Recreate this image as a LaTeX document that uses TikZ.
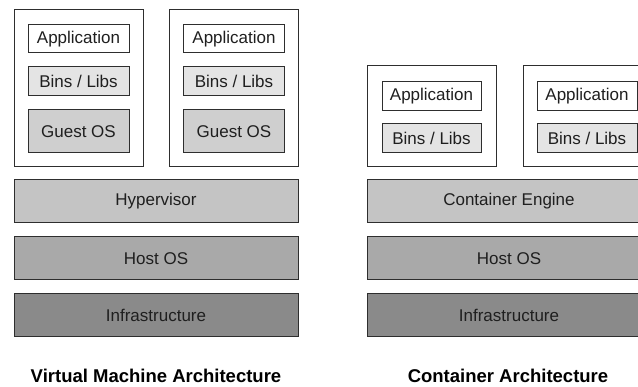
\documentclass[tikz,border=0pt]{standalone}
\usepackage{fontspec}
\setmainfont{Liberation Sans}
\usetikzlibrary{positioning}
\definecolor{binsgray}{HTML}{E4E4E4}
\definecolor{guestgray}{HTML}{CFCFCF}
\definecolor{enginegray}{HTML}{C4C4C4}
\definecolor{hostgray}{HTML}{A9A9A9}
\definecolor{infragray}{HTML}{8A8A8A}
\definecolor{edgegray}{HTML}{2E2E2E}

\begin{document}
\begin{tikzpicture}[
    x=1pt, y=-1pt,
    box/.style={rectangle, draw=edgegray, line width=1pt, inner sep=0, outer sep=0, text=black!88,
        font=\fontsize{17}{20}\selectfont},
    frame/.style={box, minimum width=129pt},
    appbox/.style={box, fill=white, minimum width=101pt, minimum height=28pt},
    binbox/.style={box, fill=binsgray, minimum width=101pt, minimum height=29pt},
    guestbox/.style={box, fill=guestgray, minimum width=101pt, minimum height=43pt},
    layer/.style={box, minimum width=284pt, minimum height=43pt},
    caption/.style={anchor=base, font=\fontsize{18.5}{22}\selectfont\bfseries}]
\useasboundingbox (0,0) rectangle (638,387);

\node[frame, minimum height=157pt] (vmA) at (78.5,88.5) {};
\node[frame, minimum height=157pt] (vmB) at (234,88.5) {};
\node[appbox] (vmAapp) at (78.5,39) {Application};
\node[binbox, below=14pt of vmAapp] (vmAbins) {Bins / Libs};
\node[guestbox, below=14pt of vmAbins] (vmAguest) {Guest OS};
\node[appbox] (vmBapp) at (234,39) {Application};
\node[binbox, below=14pt of vmBapp] (vmBbins) {Bins / Libs};
\node[guestbox, below=14pt of vmBbins] (vmBguest) {Guest OS};

\node[layer, fill=enginegray] (hyper) at (156,201.5) {Hypervisor};
\node[layer, fill=hostgray, below=14pt of hyper] (vmhost) {Host OS};
\node[layer, fill=infragray, below=14pt of vmhost] (vminfra) {Infrastructure};
\node[caption] (vmtitle) at (156,383) {Virtual Machine Architecture};

\node[frame, minimum height=101pt] (ctA) at (431.5,116.5) {};
\node[frame, minimum height=101pt] (ctB) at (587.5,116.5) {};
\node[appbox, minimum width=99pt, minimum height=29pt] (ctAapp) at (431.5,96.5) {Application};
\node[binbox, minimum width=99pt, below=13pt of ctAapp] (ctAbins) {Bins / Libs};
\node[appbox, minimum width=100pt, minimum height=29pt] (ctBapp) at (587,96.5) {Application};
\node[binbox, minimum width=100pt, below=13pt of ctBapp] (ctBbins) {Bins / Libs};

\node[layer, fill=enginegray] (engine) at (509,201.5) {Container Engine};
\node[layer, fill=hostgray, below=14pt of engine] (cthost) {Host OS};
\node[layer, fill=infragray, below=14pt of cthost] (ctinfra) {Infrastructure};
\node[caption] (cttitle) at (508,383) {Container Architecture};

\end{tikzpicture}
\end{document}
